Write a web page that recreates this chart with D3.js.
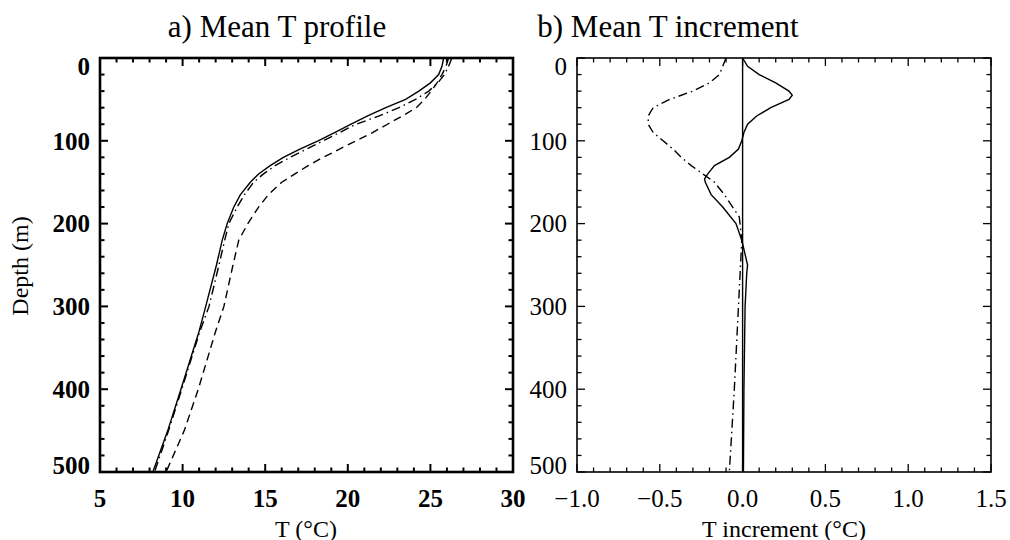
<!DOCTYPE html>
<html lang="en">
<head>
<meta charset="UTF-8">
<title>Mean T profile and increment</title>
<script src="https://d3js.org/d3.v7.min.js"></script>
<style>
  body { margin: 0; background: #ffffff; }
  svg { display: block; }
  text { font-family: 'Liberation Serif', 'DejaVu Serif', serif; fill: #000; }
</style>
</head>
<body>
<svg id="chart" width="1010" height="540"></svg>
<script>
// ---- data ----
const depthA = [0, 10, 20, 30, 40, 50, 60, 70, 80, 90, 100, 110, 120, 130, 140, 150, 165, 180, 200, 220, 250, 300, 330, 400, 450, 500];
const tSolid = [25.8, 25.7, 25.5, 25.0, 24.3, 23.5, 22.3, 21.2, 20.2, 19.2, 18.2, 17.1, 16.1, 15.3, 14.6, 14.1, 13.5, 13.1, 12.7, 12.4, 12.05, 11.4, 11.0, 9.9, 9.1, 8.2];
const tDashDot = [26.3, 26.1, 25.85, 25.45, 24.9, 24.1, 23.1, 21.9, 20.5, 19.5, 18.5, 17.5, 16.5, 15.6, 14.9, 14.3, 13.75, 13.3, 12.8, 12.55, 12.2, 11.6, 11.05, 9.95, 9.15, 8.3];
const tDashed = [26.1, 25.95, 25.7, 25.4, 25.05, 24.65, 24.15, 23.3, 22.4, 21.5, 20.5, 19.5, 18.5, 17.6, 16.8, 16.0, 15.2, 14.6, 13.95, 13.4, 13.05, 12.5, 12.0, 10.95, 10.1, 9.0];

const depthIncSolid = [0, 10, 20, 30, 40, 45, 50, 60, 70, 80, 90, 100, 110, 120, 130, 140, 146, 150, 165, 180, 200, 220, 250, 260, 300, 400, 500];
const incSolid = [0.0, 0.03, 0.1, 0.2, 0.28, 0.30, 0.28, 0.17, 0.085, 0.03, 0.008, -0.005, -0.025, -0.08, -0.17, -0.21, -0.23, -0.225, -0.19, -0.12, -0.04, -0.005, 0.03, 0.025, 0.015, 0.008, 0.005];
const depthIncDashDot = [0, 10, 20, 30, 40, 50, 60, 70, 80, 90, 100, 110, 120, 130, 140, 150, 165, 180, 192, 220, 300, 400, 500];
const incDashDot = [-0.10, -0.12, -0.14, -0.20, -0.30, -0.44, -0.54, -0.57, -0.57, -0.54, -0.48, -0.42, -0.37, -0.31, -0.24, -0.17, -0.11, -0.06, -0.02, -0.005, -0.025, -0.05, -0.08];
const zeroLine = [0, 0];
const zeroDepth = [0, 500];

const tTicks = [5, 10, 15, 20, 25, 30];
const incTicks = [-1.0, -0.5, 0.0, 0.5, 1.0, 1.5];
const depthTicks = [0, 100, 200, 300, 400, 500];

// ---- layout ----
const svg = d3.select("#chart");
const plotTop = 58, plotBottom = 472;

const y = d3.scaleLinear().domain([0, 500]).range([plotTop, plotBottom]);
const xA = d3.scaleLinear().domain([5, 30]).range([100, 513]);
const xB = d3.scaleLinear().domain([-1.0, 1.5]).range([577, 991]);

const dashStyle = { solid: null, dashed: "8,5", dashdot: "9,4,1.5,4" };

function drawFrame(x, opts) {
  const g = svg.append("g");
  const [x0, x1] = x.range();
  const minorX = d3.range(x.domain()[0], x.domain()[1] + 1e-9, opts.xMinor);
  const minorY = d3.range(0, 500 + 1e-9, 20);

  // minor + major ticks on all four sides
  const tickG = g.append("g").attr("stroke", "#000").attr("stroke-width", opts.tickW);
  minorX.forEach(v => {
    const major = opts.xTicks.some(t => Math.abs(t - v) < 1e-6);
    const len = major ? 8 : 4.5;
    tickG.append("line").attr("x1", x(v)).attr("x2", x(v)).attr("y1", plotBottom).attr("y2", plotBottom - len);
    tickG.append("line").attr("x1", x(v)).attr("x2", x(v)).attr("y1", plotTop).attr("y2", plotTop + len);
  });
  minorY.forEach(v => {
    const major = v % 100 === 0;
    const len = major ? 8 : 4.5;
    tickG.append("line").attr("x1", x0).attr("x2", x0 + len).attr("y1", y(v)).attr("y2", y(v));
    tickG.append("line").attr("x1", x1).attr("x2", x1 - len).attr("y1", y(v)).attr("y2", y(v));
  });

  // box
  g.append("rect")
    .attr("x", x0).attr("y", plotTop)
    .attr("width", x1 - x0).attr("height", plotBottom - plotTop)
    .attr("fill", "none").attr("stroke", "#000").attr("stroke-width", opts.frameW);

  // tick labels
  g.selectAll(".xl").data(opts.xTicks).enter().append("text")
    .attr("x", d => x(d)).attr("y", 507)
    .attr("text-anchor", "middle")
    .style("font-size", "25px").style("font-weight", opts.bold ? "bold" : "normal")
    .text(d => opts.fmt(d));

  g.selectAll(".yl").data(depthTicks).enter().append("text")
    .attr("x", x0 - 10)
    .attr("y", d => y(d) + (d === 0 ? 8 : d === 500 ? -7 : 0))
    .attr("dy", "0.35em")
    .attr("text-anchor", "end")
    .style("font-size", "25px").style("font-weight", opts.bold ? "bold" : "normal")
    .text(d => d);
}

drawFrame(xA, { xTicks: tTicks, xMinor: 1, fmt: d => d, bold: true, frameW: 2.6, tickW: 2 });
drawFrame(xB, { xTicks: incTicks, xMinor: 0.1, fmt: d => d3.format(".1f")(d).replace("-", "\u2212"), bold: false, frameW: 1.6, tickW: 1.3 });

function drawLine(x, xs, ds, style) {
  const line = d3.line().x(d => x(d[0])).y(d => y(d[1]));
  svg.append("path")
    .datum(xs.map((v, i) => [v, ds[i]]))
    .attr("d", line)
    .attr("fill", "none")
    .attr("stroke", "#000")
    .attr("stroke-width", 1.4)
    .attr("stroke-dasharray", dashStyle[style]);
}

drawLine(xA, tSolid, depthA, "solid");
drawLine(xA, tDashDot, depthA, "dashdot");
drawLine(xA, tDashed, depthA, "dashed");

drawLine(xB, zeroLine, zeroDepth, "solid");
drawLine(xB, incSolid, depthIncSolid, "solid");
drawLine(xB, incDashDot, depthIncDashDot, "dashdot");

// titles
svg.append("text").attr("x", 277).attr("y", 37).attr("text-anchor", "middle")
  .style("font-size", "31px").text("a) Mean T profile");
svg.append("text").attr("x", 668).attr("y", 37).attr("text-anchor", "middle")
  .style("font-size", "31px").text("b) Mean T increment");

svg.append("text").attr("x", 306).attr("y", 537).attr("text-anchor", "middle")
  .style("font-size", "24px").text("T (\u00B0C)");
svg.append("text").attr("x", 784).attr("y", 537).attr("text-anchor", "middle")
  .style("font-size", "24px").text("T increment (\u00B0C)");
svg.append("text")
  .attr("transform", "translate(28,266) rotate(-90)")
  .attr("text-anchor", "middle")
  .style("font-size", "24px").text("Depth (m)");
</script>
</body>
</html>
